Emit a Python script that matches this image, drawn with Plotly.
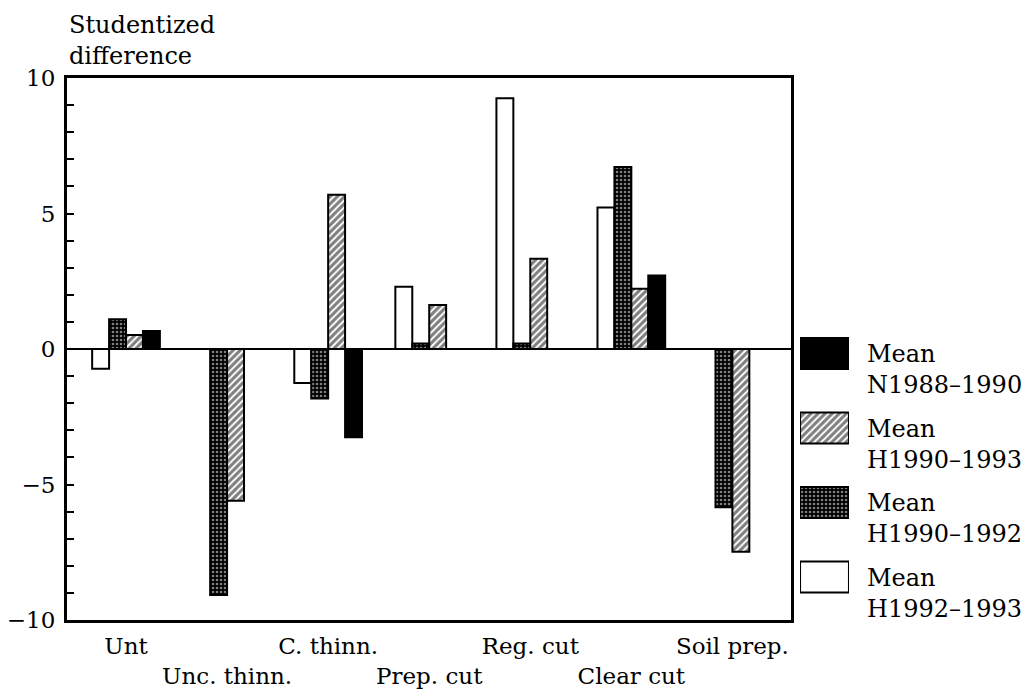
import plotly.graph_objects as go

# ---- data ----
categories = ["Unt", "Unc. thinn.", "C. thinn.", "Prep. cut", "Reg. cut", "Clear cut", "Soil prep."]
h1992_1993 = [-0.73, None, -1.25, 2.30, 9.25, 5.22, None]
h1990_1992 = [1.10, -9.08, -1.83, 0.20, 0.20, 6.72, -5.84]
h1990_1993 = [0.52, -5.60, 5.69, 1.62, 3.33, 2.22, -7.48]
n1988_1990 = [0.66, None, -3.26, None, None, 2.71, None]

series_names = ["Mean H1992\u20131993", "Mean H1990\u20131992",
                "Mean H1990\u20131993", "Mean N1988\u20131990"]
legend_labels = ["Mean<br>N1988\u20131990", "Mean<br>H1990\u20131993",
                 "Mean<br>H1990\u20131992", "Mean<br>H1992\u20131993"]

y_tick_vals = list(range(-10, 11))
y_tick_text = ["\u221210" if v == -10 else "\u22125" if v == -5 else str(v) if v % 5 == 0 else "" for v in y_tick_vals]

FONT = "DejaVu Serif"
FS = 23

styles = {
    "white": dict(color="white", line=dict(color="black", width=2)),
    "cross": dict(color="black", line=dict(color="black", width=2),
                  pattern=dict(shape=".", fgcolor="white", bgcolor="black", size=4, solidity=0.35)),
    "hatch": dict(color="white", line=dict(color="black", width=2),
                  pattern=dict(shape="/", fgcolor="black", bgcolor="white", size=5, solidity=0.62)),
    "black": dict(color="black", line=dict(color="black", width=2)),
}

fig = go.Figure()
xs = list(range(len(categories)))
for vals, key, name in zip([h1992_1993, h1990_1992, h1990_1993, n1988_1990],
                           ["white", "cross", "hatch", "black"], series_names):
    fig.add_trace(go.Bar(x=xs, y=vals, name=name, marker=styles[key], showlegend=False,
                         xaxis="x", yaxis="y"))

# custom legend swatches (large boxes like the original)
legend_keys = ["black", "hatch", "cross", "white"]
for i, key in enumerate(legend_keys):
    fig.add_trace(go.Bar(x=[1], y=[i], orientation="h", width=0.416, marker=styles[key],
                         showlegend=False, xaxis="x2", yaxis="y2", hoverinfo="skip"))

annotations = []
for i, lab in enumerate(legend_labels):
    annotations.append(dict(xref="paper", yref="y2", x=0.8304, y=i + 0.22, text=lab,
                            showarrow=False, xanchor="left", yanchor="middle", align="left",
                            font=dict(family=FONT, size=24, color="black")))
annotations.append(dict(xref="paper", yref="paper", x=0, y=1, xshift=0, yshift=6,
                        text="Studentized<br>difference", showarrow=False, align="left",
                        xanchor="left", yanchor="bottom",
                        font=dict(family=FONT, size=24, color="black")))

tick_text_x = [c if i % 2 == 0 else "<br>" + c for i, c in enumerate(categories)]

fig.update_layout(
    width=1033, height=690,
    margin=dict(l=67, r=5, t=78, b=70, autoexpand=False),
    paper_bgcolor="white", plot_bgcolor="white",
    font=dict(family=FONT, size=FS, color="black"),
    barmode="group", bargap=0.33, bargroupgap=0,
    showlegend=False,
    xaxis=dict(domain=[0, 0.7534], range=[-0.584, 6.58], tickvals=xs, ticktext=tick_text_x,
               tickangle=0, automargin=False, ticklabelstandoff=3,
               showline=True, linecolor="black", linewidth=3, mirror=True, ticks="",
               showgrid=False, zeroline=False, tickfont=dict(family=FONT, size=FS)),
    yaxis=dict(range=[-10, 10], tickvals=y_tick_vals, ticktext=y_tick_text, automargin=False,
               ticks="inside", ticklen=7, tickwidth=2, tickcolor="black",
               showline=True, linecolor="black", linewidth=3, mirror=True,
               showgrid=False, zeroline=True, zerolinecolor="black", zerolinewidth=2,
               ticklabelstandoff=4, tickfont=dict(family=FONT, size=FS)),
    xaxis2=dict(domain=[0.7628, 0.8137], range=[0, 1], visible=False, anchor="y2"),
    yaxis2=dict(domain=[0, 1], range=[3.577, -3.698], visible=False, anchor="x2"),
    annotations=annotations,
)

fig.write_html("out.html")
